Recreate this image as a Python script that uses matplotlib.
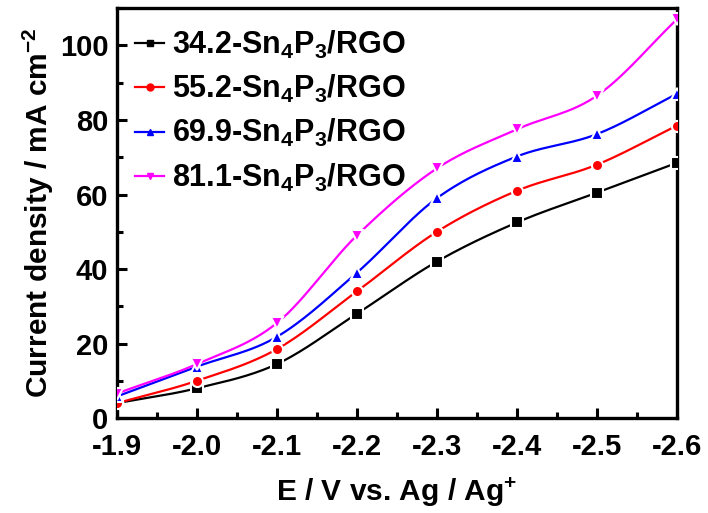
import numpy as np
import matplotlib.pyplot as plt
from matplotlib.ticker import MultipleLocator

plt.rcParams['font.family'] = 'Liberation Sans'
plt.rcParams['font.weight'] = 'bold'
plt.rcParams['mathtext.fontset'] = 'custom'
plt.rcParams['mathtext.rm'] = 'Liberation Sans:bold'
plt.rcParams['mathtext.bf'] = 'Liberation Sans:bold'

# potential (V vs. Ag/Ag+) and current density (mA cm-2)
potential = [-1.9, -2.0, -2.1, -2.2, -2.3, -2.4, -2.5, -2.6]
j_342 = [4.0, 8.0, 14.5, 28.0, 42.0, 52.5, 60.5, 68.5]
j_552 = [4.0, 10.0, 18.5, 34.0, 50.0, 61.0, 68.0, 78.5]
j_699 = [5.8, 13.8, 21.8, 39.0, 59.0, 70.2, 76.2, 87.0]
j_811 = [6.6, 14.5, 25.5, 49.0, 67.0, 77.5, 86.5, 107.0]

labels = [r'34.2-Sn$_{4}$P$_{3}$/RGO', r'55.2-Sn$_{4}$P$_{3}$/RGO',
          r'69.9-Sn$_{4}$P$_{3}$/RGO', r'81.1-Sn$_{4}$P$_{3}$/RGO']
series = [j_342, j_552, j_699, j_811]
colors = ['black', '#ff0000', '#0000ff', '#ff00ff']
markers = ['s', 'o', '^', 'v']


def smooth(x, y, n=30):
    # Catmull-Rom curve through the points, just for drawing the line
    x = np.asarray(x, float)
    y = np.asarray(y, float)
    px = np.concatenate([[2 * x[0] - x[1]], x, [2 * x[-1] - x[-2]]])
    py = np.concatenate([[2 * y[0] - y[1]], y, [2 * y[-1] - y[-2]]])
    xs, ys = [], []
    t = np.linspace(0, 1, n)
    for i in range(1, len(px) - 2):
        for p, out in ((px, xs), (py, ys)):
            p0, p1, p2, p3 = p[i - 1], p[i], p[i + 1], p[i + 2]
            out.append(0.5 * (2 * p1 + (-p0 + p2) * t
                              + (2 * p0 - 5 * p1 + 4 * p2 - p3) * t ** 2
                              + (-p0 + 3 * p1 - 3 * p2 + p3) * t ** 3))
    return np.concatenate(xs), np.concatenate(ys)


fig = plt.figure(figsize=(7.08, 5.13), dpi=100)
ax = fig.add_axes([0.165, 0.185, 0.791, 0.799])

for y, c, m, lab in zip(series, colors, markers, labels):
    sx, sy = smooth(potential, y)
    ax.plot(sx, sy, color=c, lw=1.6, zorder=2)
    ax.plot(potential, y, ls='none', marker=m, color=c, ms=8,
            mec='white', mew=1.5, zorder=3)
    # legend entry: short line with small marker
    ax.plot([], [], color=c, lw=1.6, marker=m, ms=5, label=lab)

ax.set_xlim(-1.9, -2.6)
ax.set_ylim(0, 110)
ax.xaxis.set_major_locator(MultipleLocator(0.1))
ax.xaxis.set_minor_locator(MultipleLocator(0.05))
ax.yaxis.set_major_locator(MultipleLocator(20))
ax.yaxis.set_minor_locator(MultipleLocator(10))
ax.xaxis.set_major_formatter(plt.FuncFormatter(lambda v, p: '%.1f' % v))

ax.tick_params(which='both', direction='in', width=2.2, labelsize=21,
               top=False, right=False)
ax.tick_params(which='major', length=7)
ax.tick_params(axis='y', which='major', pad=6)
ax.tick_params(axis='x', which='major', pad=11)
ax.tick_params(which='minor', length=4)
for s in ax.spines.values():
    s.set_linewidth(2.4)

ax.set_xlabel(r'E / V vs. Ag / Ag$^{+}$', fontsize=21.5, fontweight='bold', labelpad=10)
ax.set_ylabel(r'Current density / mA cm$^{-2}$', fontsize=21.5, fontweight='bold', labelpad=3)

handles, labs = ax.get_legend_handles_labels()
ax.legend(handles[-4:], labs[-4:], loc='upper left', frameon=False,
          fontsize=22, handlelength=0.95, handletextpad=0.25,
          labelspacing=0.4, borderaxespad=0.2,
          bbox_to_anchor=(0.0, 0.995))

fig.savefig('out.png', dpi=100)
